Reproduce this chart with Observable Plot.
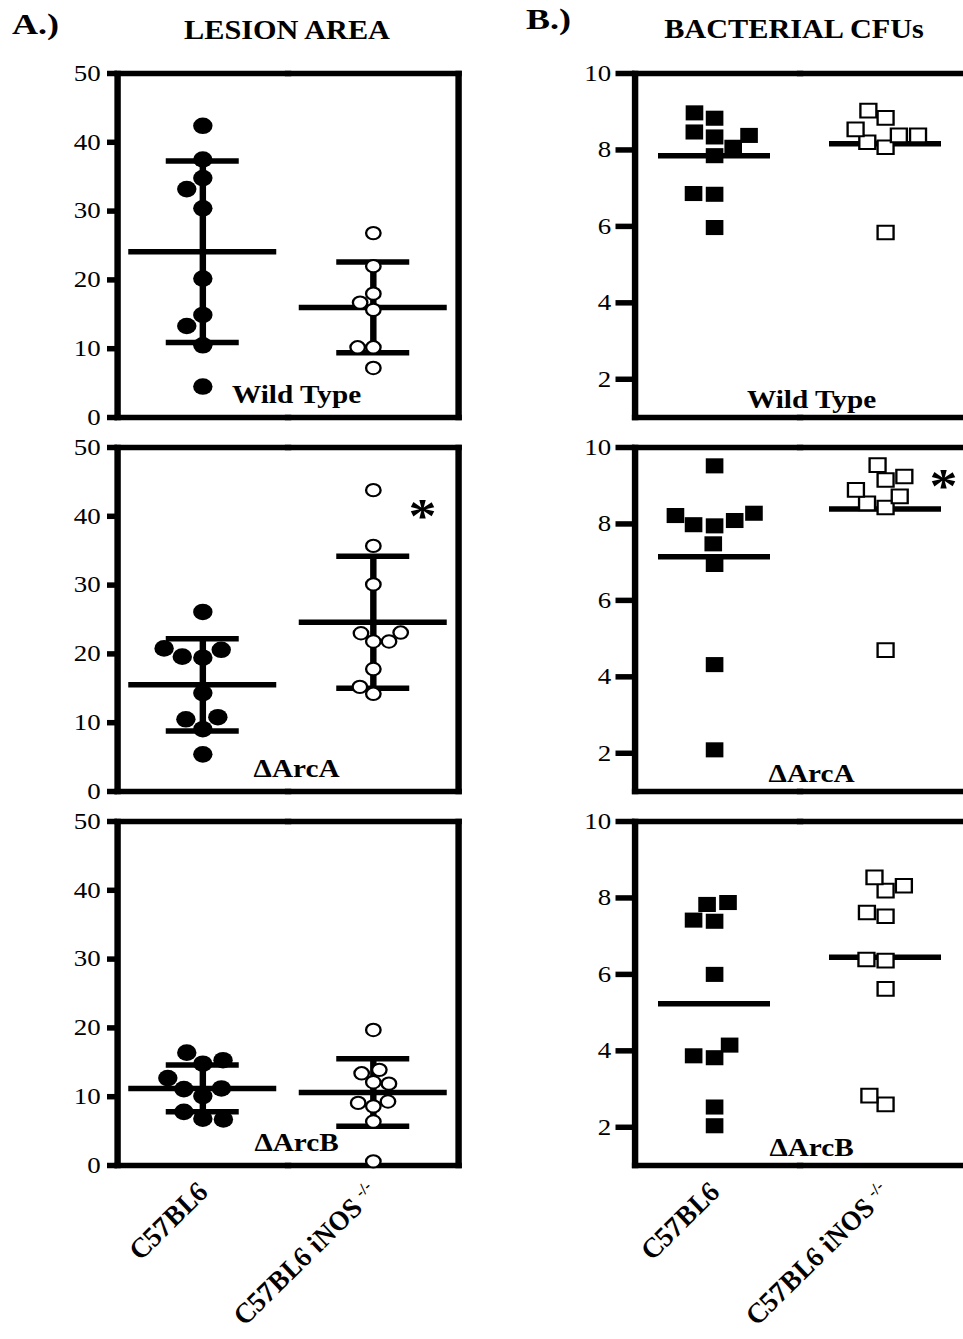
<!DOCTYPE html>
<html><head><meta charset="utf-8">
<script src="https://cdn.jsdelivr.net/npm/d3@7"></script>
<script src="https://cdn.jsdelivr.net/npm/@observablehq/plot@0.6"></script>
<style>
html,body{margin:0;padding:0;background:#fff;}
#root{position:relative;width:963px;height:1339px;overflow:hidden;font-family:"Liberation Serif","Times New Roman",serif;color:#000;background:#fff;}
.title{position:absolute;font-weight:bold;white-space:nowrap;line-height:1;}
#colA{position:absolute;left:0;top:0;width:480px;height:1339px;overflow:hidden;}
#colB{position:absolute;left:480px;top:0;width:483px;height:1339px;overflow:hidden;}
#root svg g[aria-label="fx-axis tick label"] text{font-weight:bold;font-style:italic;}
</style></head>
<body><div id="root">
<div id="colA"></div><div id="colB"></div>
<div class="title" style="left:12px;top:9px;font-size:30px;transform:scaleX(1.2);transform-origin:0 0;">A.)</div>
<div class="title" style="left:287px;top:16px;font-size:28px;transform:translateX(-50%) scaleX(1.08);">LESION AREA</div>
<div class="title" style="left:526px;top:4px;font-size:30px;transform:scaleX(1.2);transform-origin:0 0;">B.)</div>
<div class="title" style="left:794px;top:15px;font-size:28px;transform:translateX(-50%) scaleX(1.08);">BACTERIAL CFUs</div>
</div>
<script>
// ---- categories & ticks
const groups = ["C57BL6", "C57BL6 iNOS -/-"];
const strains = ["Wild Type", "ΔArcA", "ΔArcB"];
const lesionTicks = [0, 10, 20, 30, 40, 50];
const cfuTicks = [2, 4, 6, 8, 10];
const lesionDomain = [0, 50];
const cfuDomain = [1, 10];

// ---- A.) lesion area values (per mouse)
const lesionWT_C57 = [42.4, 34.8, 30.4, 20.2, 14.9, 10.5, 4.5, 37.5, 13.3, 33.2];
const lesionWT_iNOS = [26.8, 22.0, 15.65, 10.2, 7.2, 18.0, 16.7, 10.2];
const lesionArcA_C57 = [26.1, 19.45, 14.3, 9.05, 5.4, 19.6, 20.6, 20.8, 10.5, 10.8];
const lesionArcA_iNOS = [43.8, 35.7, 30.1, 21.8, 14.2, 17.8, 23.0, 21.8, 23.1, 15.2];
const lesionArcB_C57 = [14.8, 10.1, 6.8, 16.4, 15.3, 11.1, 11.2, 7.8, 6.7, 12.7];
const lesionArcB_iNOS = [19.7, 12.1, 6.4, 0.6, 13.4, 11.9, 8.6, 9.1, 13.9, 9.3];
// mean and SD per strain [C57BL6, iNOS]
const lesionMean = [[24.1, 16.0], [15.5, 24.6], [11.2, 10.6]];
const lesionSD = [[13.2, 6.6], [6.7, 9.6], [3.4, 4.9]];

// ---- B.) bacterial CFUs (log10)
const cfuWT_C57 = [8.83, 7.85, 6.84, 5.97, 8.97, 8.34, 6.86, 8.47, 8.07, 8.38];
const cfuWT_iNOS = [8.84, 8.07, 5.84, 9.03, 8.20, 8.38, 8.38, 8.54];
const cfuArcA_C57 = [9.52, 7.95, 6.94, 4.32, 2.09, 7.98, 8.09, 7.48, 8.22, 8.28];
const cfuArcA_iNOS = [9.15, 8.43, 4.70, 9.54, 9.24, 8.54, 8.72, 8.89];
const cfuArcB_C57 = [7.39, 6.00, 3.82, 2.04, 7.42, 7.83, 3.87, 4.15, 2.53, 7.88];
const cfuArcB_iNOS = [8.19, 7.52, 6.36, 5.62, 2.60, 8.54, 7.62, 8.32, 6.39, 2.83];
const cfuMean = [[7.85, 8.16], [7.14, 8.39], [5.23, 6.45]];

// significance marks
const stars = [{strain: "ΔArcA", group: "C57BL6 iNOS -/-", label: "*"}];

// ---- build tables
const tag = (strain, group, values) => values.map(value => ({strain, group, value}));
const lesionPoints = [
  ...tag(strains[0], groups[0], lesionWT_C57), ...tag(strains[0], groups[1], lesionWT_iNOS),
  ...tag(strains[1], groups[0], lesionArcA_C57), ...tag(strains[1], groups[1], lesionArcA_iNOS),
  ...tag(strains[2], groups[0], lesionArcB_C57), ...tag(strains[2], groups[1], lesionArcB_iNOS)
];
const cfuPoints = [
  ...tag(strains[0], groups[0], cfuWT_C57), ...tag(strains[0], groups[1], cfuWT_iNOS),
  ...tag(strains[1], groups[0], cfuArcA_C57), ...tag(strains[1], groups[1], cfuArcA_iNOS),
  ...tag(strains[2], groups[0], cfuArcB_C57), ...tag(strains[2], groups[1], cfuArcB_iNOS)
];
const lesionSummary = strains.flatMap((strain, i) => groups.map((group, j) => ({strain, group, mean: lesionMean[i][j], sd: lesionSD[i][j]})));
const cfuSummary = strains.flatMap((strain, i) => groups.map((group, j) => ({strain, group, mean: cfuMean[i][j]})));

// ---- layout (the original figure is horizontally stretched)
const S = 1.17;
const LW = 5.5;
const H = 1339, MT = 73, MB = 1339 - 1165;

function makePanel(cfg) {
  const W = cfg.widthPx / S;
  const inset = cfg.frameInsetPx / S;
  const cellW = (cfg.widthPx - cfg.marginLeftPx - cfg.marginRightPx) / 2 / S;
  const L = groups[0], R = groups[1];
  const fo = {stroke: "black", strokeWidth: LW, strokeLinecap: "square"};
  const facetOpts = {fx: "group", fy: "strain"};
  const marks = [
    Plot.frame({...fo, anchor: "top", fx: () => L, insetLeft: inset}),
    Plot.frame({...fo, anchor: "bottom", fx: () => L, insetLeft: inset}),
    Plot.frame({...fo, anchor: "left", fx: () => L, insetLeft: inset}),
    Plot.frame({...fo, anchor: "top", fx: () => R}),
    Plot.frame({...fo, anchor: "bottom", fx: () => R}),
    Plot.frame({...fo, anchor: "right", fx: () => R}),
    Plot.axisY({ticks: cfg.ticks, tickFormat: d => String(d), tickSize: cfg.tickSizePx / S, tickPadding: cfg.tickPadPx / S,
      strokeWidth: LW, fontSize: 23, dx: inset, label: null}),
    Plot.axisFx({anchor: "bottom", tickSize: 0, tickPadding: 22, tickRotate: -49, fontSize: 26,
      fontWeight: "bold", fontStyle: "italic", label: null}),
    Plot.tickY(cfg.summary, {...facetOpts, y: "mean", strokeWidth: LW, inset: (cellW - cfg.meanWidthPx / S) / 2})
  ];
  if (cfg.errorBars) {
    const capInset = (cellW - 73 / S) / 2;
    marks.push(
      Plot.ruleX(cfg.summary, {...facetOpts, x: null, y1: d => d.mean - d.sd, y2: d => d.mean + d.sd, strokeWidth: LW}),
      Plot.tickY(cfg.summary, {...facetOpts, y: d => d.mean + d.sd, strokeWidth: LW, inset: capInset}),
      Plot.tickY(cfg.summary, {...facetOpts, y: d => d.mean - d.sd, strokeWidth: LW, inset: capInset})
    );
  }
  marks.push(
    Plot.dot(cfg.points, Plot.dodgeX("middle", {...facetOpts, y: "value", filter: d => d.group === L,
      r: cfg.rFilled, padding: cfg.pad, symbol: cfg.symbol, fill: "black", stroke: "none"})),
    Plot.dot(cfg.points, Plot.dodgeX("middle", {...facetOpts, y: "value", filter: d => d.group === R,
      r: cfg.rOpen, padding: cfg.pad, symbol: cfg.symbol, fill: "white", stroke: "black", strokeWidth: 2})),
    Plot.text(strains, {fy: d => d, fx: () => R, text: d => d, frameAnchor: "bottom-left", textAnchor: "middle",
      lineAnchor: "bottom", dx: cfg.labelDxPx / S, dy: cfg.labelDy, fontSize: 25, fontWeight: "bold"}),
    Plot.text(stars, {...facetOpts, text: "label", frameAnchor: "top-right", textAnchor: "middle", lineAnchor: "middle",
      dx: cfg.starDxPx / S, dy: cfg.starDy, fontSize: 48, fontWeight: "bold"})
  );
  const svg = Plot.plot({
    width: W, height: H,
    marginTop: MT, marginBottom: MB,
    marginLeft: cfg.marginLeftPx / S, marginRight: cfg.marginRightPx / S,
    fx: {domain: groups, padding: 0, round: false},
    fy: {domain: strains, paddingInner: 30 / 374, paddingOuter: 0, round: false, axis: null},
    y: {domain: cfg.domain},
    style: {fontFamily: "'Liberation Serif', 'Times New Roman', serif", color: "black", background: "transparent"},
    marks
  });
  // superscript the knockout notation
  svg.querySelectorAll("text").forEach(t => {
    if (t.textContent === R) {
      t.textContent = "";
      t.appendChild(document.createTextNode("C57BL6 iNOS "));
      const sup = document.createElementNS("http://www.w3.org/2000/svg", "tspan");
      sup.setAttribute("font-size", "15");
      sup.setAttribute("dy", "-9");
      sup.textContent = "-/-";
      t.appendChild(sup);
    }
  });
  // apply the horizontal stretch of the original figure
  svg.setAttribute("preserveAspectRatio", "none");
  svg.setAttribute("width", cfg.widthPx);
  svg.setAttribute("height", H);
  svg.style.width = cfg.widthPx + "px";
  svg.style.height = H + "px";
  svg.style.maxWidth = "none";
  return svg;
}

document.getElementById("colA").appendChild(makePanel({
  widthPx: 480, marginLeftPx: 117, marginRightPx: 22, frameInsetPx: 0,
  domain: lesionDomain, ticks: lesionTicks, tickSizePx: 10, tickPadPx: 7,
  points: lesionPoints, summary: lesionSummary, errorBars: true, meanWidthPx: 148,
  symbol: "circle", rFilled: 8.3, rOpen: 6.2, pad: 3,
  labelDxPx: 8.5, labelDy: -15, starDxPx: -36, starDy: 69
}));
document.getElementById("colB").appendChild(makePanel({
  widthPx: 500, marginLeftPx: 148.5, marginRightPx: 9.5, frameInsetPx: 6,
  domain: cfuDomain, ticks: cfuTicks, tickSizePx: 19, tickPadPx: 5,
  points: cfuPoints, summary: cfuSummary, errorBars: false, meanWidthPx: 112,
  symbol: "square", rFilled: 8.5, rOpen: 7.7, pad: 4.5,
  labelDxPx: 11.5, labelDy: -10, starDxPx: -27.5, starDy: 39
}));
</script>
</body></html>
